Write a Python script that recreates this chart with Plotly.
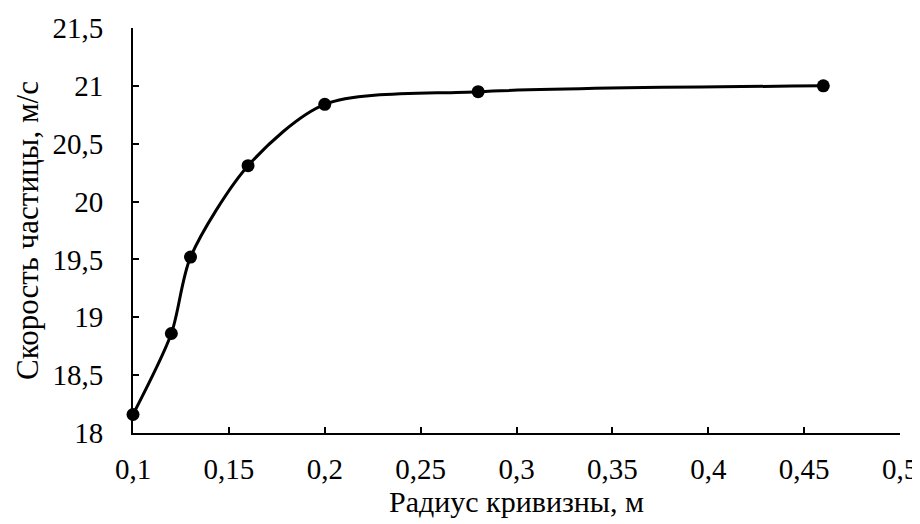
import plotly.graph_objects as go

radius = [0.1, 0.12, 0.13, 0.16, 0.2, 0.28, 0.46]
speed = [18.16, 18.86, 19.52, 20.31, 20.84, 20.95, 21.0]

x_ticks = [0.1, 0.15, 0.2, 0.25, 0.3, 0.35, 0.4, 0.45, 0.5]
y_ticks = [18, 18.5, 19, 19.5, 20, 20.5, 21, 21.5]

font_family = "Liberation Serif"
fs = 29

fig = go.Figure()
fig.add_trace(go.Scatter(
    x=radius, y=speed,
    mode="lines+markers",
    line=dict(color="black", width=3, shape="spline", smoothing=0.8),
    marker=dict(color="black", size=13),
    cliponaxis=False,
    showlegend=False,
))

axis_common = dict(
    showgrid=False, zeroline=False, automargin=False,
    showline=True, linecolor="black", linewidth=2,
    ticks="inside", ticklen=6, tickwidth=2, tickcolor="black",
    ticklabeloverflow="allow",
    tickfont=dict(family=font_family, size=fs, color="black"),
)

# page body has an 8px margin; the figure is sized to fit the 920x524 window
fig.update_layout(
    width=912, height=516,
    margin=dict(l=125, r=20, t=20, b=91),
    plot_bgcolor="white", paper_bgcolor="white",
    separators=", ",
    font=dict(family=font_family, color="black", size=fs),
    xaxis=dict(range=[0.1, 0.5], tickvals=x_ticks, ticklabelstandoff=9,
               title=dict(text="Радиус кривизны, м", font=dict(family=font_family, size=30), standoff=3),
               **axis_common),
    yaxis=dict(range=[18, 21.5], tickvals=y_ticks, ticklabelstandoff=22,
               title=dict(text="Скорость частицы, м/с", font=dict(family=font_family, size=31), standoff=5),
               **axis_common),
)

fig.write_html("out.html")
